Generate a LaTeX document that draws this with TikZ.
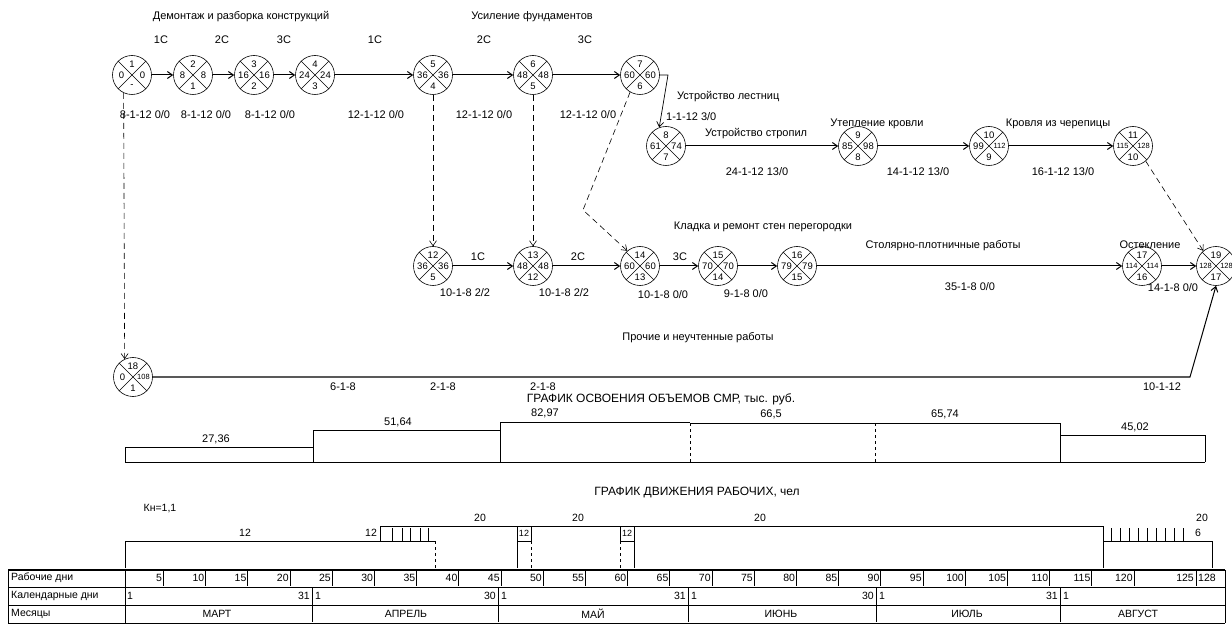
\documentclass[tikz,border=0pt]{standalone}
\usepackage{fontspec}
\setmainfont{Liberation Sans}
\usetikzlibrary{arrows.meta}
\newcommand\tn{\fontsize{7.5}{8}\selectfont}
\newcommand\evt[7]{%
  \node[ev] (#1) at (#2,#3) {};
  \draw[thin] (#1.45) -- (#1.225) (#1.135) -- (#1.315);
  \node[num] at (#2,#3-11) {#4};
  \node[num] at (#2-10.5,#3) {#5};
  \node[num] at (#2+10.5,#3) {#6};
  \node[num] at (#2,#3+11) {#7};
}
\begin{document}
\begin{tikzpicture}[x=1pt,y=-1pt,
  ev/.style={circle,draw,line width=0.6pt,minimum size=39pt,inner sep=0pt},
  num/.style={font=\fontsize{9.5}{10}\selectfont,inner sep=0pt},
  lab/.style={font=\fontsize{11}{12}\selectfont,inner sep=0pt},
  sm/.style={font=\fontsize{10.5}{11}\selectfont,inner sep=0pt},
  ttl/.style={font=\fontsize{12}{13}\selectfont,inner sep=0pt},
  work/.style={line width=1pt,-{Straight Barb[length=5pt,width=7pt]}},
  dep/.style={line width=0.6pt,dash pattern=on 6pt off 4pt,-{Straight Barb[length=5pt,width=7pt]}},
  ln/.style={line width=0.6pt}]
\useasboundingbox (0,0) rectangle (1232,628);
\fill[white] (0,0) rectangle (1232,628);

% ---- events ----
\evt{n1}{132}{75}{1}{0}{0}{-}
\evt{n2}{193}{75}{2}{8}{8}{1}
\evt{n3}{254}{75}{3}{16}{16}{2}
\evt{n4}{315}{75}{4}{24}{24}{3}
\evt{n5}{433}{75}{5}{36}{36}{4}
\evt{n6}{533}{75}{6}{48}{48}{5}
\evt{n7}{640}{75}{7}{60}{60}{6}
\evt{n8}{666}{146}{8}{61}{74}{7}
\evt{n9}{858}{146}{9}{85}{98}{8}
\evt{n10}{989}{146}{10}{99}{\tn 112}{9}
\evt{n11}{1133}{146}{11}{\tn 115}{\tn 128}{10}
\evt{n12}{433}{266}{12}{36}{36}{5}
\evt{n13}{533}{266}{13}{48}{48}{12}
\evt{n14}{640}{266}{14}{60}{60}{13}
\evt{n15}{718}{266}{15}{70}{70}{14}
\evt{n16}{797}{266}{16}{79}{79}{15}
\evt{n17}{1142}{266}{17}{\tn 114}{\tn 114}{16}
\evt{n19}{1216}{266}{19}{\tn 128}{\tn 128}{17}
\evt{n18}{133}{377}{18}{0}{\tn 108}{1}

% ---- work arrows ----
\draw[work] (n1) -- (n2);
\draw[work] (n2) -- (n3);
\draw[work] (n3) -- (n4);
\draw[work] (n4) -- (n5);
\draw[work] (n5) -- (n6);
\draw[work] (n6) -- (n7);
\coordinate (c7) at (668,75);
\draw[work,line width=0.7pt] (n7) -- (c7) -- (n8.110);
\draw[work] (n8) -- (n9);
\draw[work] (n9) -- (n10);
\draw[work] (n10) -- (n11);
\draw[work] (n12) -- (n13);
\draw[work] (n13) -- (n14);
\draw[work] (n14) -- (n15);
\draw[work] (n15) -- (n16);
\draw[work] (n16) -- (n17);
\draw[work] (n17) -- (n19);
\coordinate (c18) at (1190,377);
\draw[work] (n18) -- (c18) -- (n19.south);

% ---- dependencies ----
\draw[dep] (n1.245) -- (n18.115);
\draw[dep] (n5) -- (n12);
\draw[dep] (n6) -- (n13);
\coordinate (c14) at (583,210);
\draw[dep] (n7.240) -- (c14) -- (n14.130);
\draw[dep] (n11.-50) -- (n19.130);

% ---- labels ----
\node[lab] at (241,17) {Демонтаж и разборка конструкций};
\node[lab] at (532,17) {Усиление фундаментов};
\foreach \x/\t in {161/1С,222/2С,284/3С,375/1С,484/2С,585/3С}
  \node[lab] at (\x,40) {\t};
\node[lab] at (145,115) {8-1-12 0/0};
\node[lab] at (206,115) {8-1-12 0/0};
\node[lab] at (270,115) {8-1-12 0/0};
\node[lab] at (376,115) {12-1-12 0/0};
\node[lab] at (484,115) {12-1-12 0/0};
\node[lab] at (588,115) {12-1-12 0/0};
\node[lab,anchor=west] at (677,97) {Устройство лестниц};
\node[lab,anchor=west] at (666,117) {1-1-12 3/0};
\node[lab,anchor=west] at (705,134) {Устройство стропил};
\node[lab] at (757,172) {24-1-12 13/0};
\node[lab] at (877,124) {Утепление кровли};
\node[lab] at (918,172) {14-1-12 13/0};
\node[lab] at (1058,124) {Кровля из черепицы};
\node[lab] at (1063,172) {16-1-12 13/0};
\node[lab] at (763,227) {Кладка и ремонт стен перегородки};
\foreach \x/\t in {478/1С,578/2С,680/3С}
  \node[lab] at (\x,257) {\t};
\node[lab] at (465,293) {10-1-8 2/2};
\node[lab] at (564,293) {10-1-8 2/2};
\node[lab] at (663,295) {10-1-8 0/0};
\node[lab] at (746,294) {9-1-8 0/0};
\node[lab] at (943,246) {Столярно-плотничные работы};
\node[lab] at (970,287) {35-1-8 0/0};
\node[lab] at (1150,245) {Остекление};
\node[lab] at (1173,288) {14-1-8 0/0};
\node[lab] at (698,338) {Прочие и неучтенные работы};
\node[lab] at (343,387) {6-1-8};
\node[lab] at (443,387) {2-1-8};
\node[lab] at (543,387) {2-1-8};
\node[lab] at (1162,387) {10-1-12};

% ---- volume chart ----
\node[ttl] at (661,399) {ГРАФИК ОСВОЕНИЯ ОБЪЕМОВ СМР, тыс. руб.};
\draw[ln] (125,462) -- (1205,462);
\draw[ln] (125,462) -- (125,447) -- (313,447) -- (313,462);
\draw[ln] (313,447) -- (313,430) -- (500,430) -- (500,462);
\draw[ln] (500,430) -- (500,422) -- (690,422);
\draw[ln] (690,423) -- (1060,423) -- (1060,462);
\draw[ln,dashed] (690,423) -- (690,462);
\draw[ln,dashed] (875,423) -- (875,462);
\draw[ln] (1060,435) -- (1205,435) -- (1205,462);
\node[lab] at (216,439) {27,36};
\node[lab] at (398,422) {51,64};
\node[lab] at (545,413) {82,97};
\node[lab] at (771,414) {66,5};
\node[lab] at (945,414) {65,74};
\node[lab] at (1135,427) {45,02};

% ---- workers chart ----
\node[ttl] at (697,493) {ГРАФИК ДВИЖЕНИЯ РАБОЧИХ, чел};
\node[sm] at (160,509) {Кн=1,1};
\node[sm] at (245,533) {12};
\node[sm] at (371,533) {12};
\foreach \x in {480,578,760,1202} \node[sm] at (\x,518) {20};
\draw[ln] (125,568) -- (125,541) -- (435,541);
\draw[ln,dashed] (435,541) -- (435,568);
\draw[ln] (380,541) -- (380,526) -- (1103,526) -- (1103,568);
\foreach \x in {392,402,410,420,428} \draw[ln] (\x,528) -- (\x,541);
\draw[ln] (517,526) rectangle (531,541);
\node[font=\fontsize{9}{9}\selectfont,inner sep=0pt] at (524,533) {12};
\draw[ln] (517,541) -- (517,568);
\draw[ln,dashed] (531,541) -- (531,568);
\draw[ln] (620,526) rectangle (634,541);
\node[font=\fontsize{9}{9}\selectfont,inner sep=0pt] at (627,533) {12};
\draw[ln] (634,541) -- (634,568);
\draw[ln,dashed] (620,541) -- (620,568);
\foreach \x in {1111,1120,1129,1138,1147,1156,1165,1174,1183} \draw[ln] (\x,528) -- (\x,541);
\draw[ln] (1103,541) -- (1190,541);
\node[sm] at (1198,533) {6};
\draw[ln] (1190,541) -- (1212,541) -- (1212,568);

% ---- table ----
\draw[line width=1.2pt] (8,570) -- (1225,570);
\draw[ln] (8,587) -- (1225,587);
\draw[ln] (8,605) -- (1225,605);
\draw[ln] (8,623) -- (1225,623);
\draw[ln] (8,570) -- (8,623);
\draw[ln] (125,570) -- (125,623);
\draw[ln] (1225,570) -- (1225,623);
\node[sm,anchor=west] at (11,578) {Рабочие дни};
\node[sm,anchor=west] at (11,596) {Календарные дни};
\node[sm,anchor=west] at (11,614) {Месяцы};
\foreach \d in {5,10,...,120} {
  \pgfmathsetmacro\xx{121+8.44*\d}
  \node[sm,anchor=east] at (\xx-1,578) {\d};
  \draw[ln] (\xx,571) -- (\xx,586);
}
\node[sm,anchor=east] at (1194,578) {125};
\draw[ln] (1196,571) -- (1196,586);
\node[sm,anchor=west] at (1198,578) {128};
% calendar days
\node[sm,anchor=west] at (127,596) {1};
\foreach \x/\e in {312/31,498/30,688/31,876/30,1060/31} {
  \node[sm,anchor=east] at (\x-2,596) {\e};
  \draw[ln] (\x,588) -- (\x,622);
  \node[sm,anchor=west] at (\x+3,596) {1};
}
\node[sm] at (217,614) {МАРТ};
\node[sm] at (406,614) {АПРЕЛЬ};
\node[sm] at (593,614) {МАЙ};
\node[sm] at (781,614) {ИЮНЬ};
\node[sm] at (967,614) {ИЮЛЬ};
\node[sm] at (1138,614) {АВГУСТ};
\end{tikzpicture}
\end{document}
